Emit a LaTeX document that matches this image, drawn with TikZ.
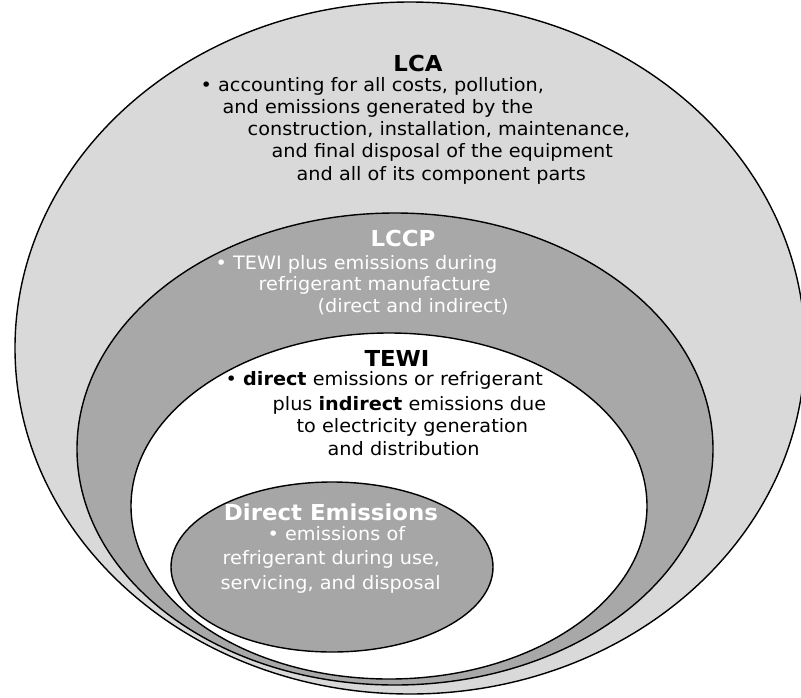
\documentclass[tikz,border=0pt]{standalone}
\usepackage{fontspec}
\setmainfont{DejaVu Sans}[FakeStretch=1.04]
\usepackage{tikz}
\usetikzlibrary{shapes.geometric,positioning}

\begin{document}
\begin{tikzpicture}[x=1pt,y=-1pt,line width=1.4pt]
\tikzstyle{ring}=[ellipse,draw=black,inner sep=0pt]
\tikzstyle{heading}=[inner sep=0pt,text depth=0pt,font=\fontsize{22}{26}\selectfont\bfseries]
\tikzstyle{bodytext}=[anchor=west,inner sep=0pt,text height=0.72em,text depth=0.2em,font=\fontsize{18.5}{22}\selectfont]

\useasboundingbox (0,0) rectangle (801,697);

\node[ring,fill=gray!30,minimum width=790pt,minimum height=692pt] (LCA)  at (410,348) {};
\node[ring,fill=gray!68,minimum width=636pt,minimum height=472pt] (LCCP) at (395,449) {};
\node[ring,fill=white,  minimum width=516pt,minimum height=346pt] (TEWI) at (389,506) {};
\node[ring,fill=gray!70,minimum width=322pt,minimum height=170pt] (DE)   at (332,567) {};

\node[heading]  (LCAhead) at (418,63)  {LCA};
\node[bodytext] (LCA1)    at (200,89)  {• accounting for all costs, pollution,};
\node[bodytext] (LCA2)    at (222,111) {and emissions generated by the};
\node[bodytext] (LCA3)    at (247,133) {construction, installation, maintenance,};
\node[bodytext] (LCA4)    at (271,155) {and final disposal of the equipment};
\node[bodytext] (LCA5)    at (296,178) {and all of its component parts};

\node[heading,text=white]  (LCCPhead) at (403,238) {LCCP};
\node[bodytext,text=white] (LCCP1)    at (215,267) {• TEWI plus emissions during};
\node[bodytext,text=white] (LCCP2)    at (258,288) {refrigerant manufacture};
\node[bodytext,text=white] (LCCP3)    at (317,310) {(direct and indirect)};

\node[heading]  (TEWIhead) at (397,358) {TEWI};
\node[bodytext] (TEWI1)    at (225,383) {• \textbf{direct} emissions or refrigerant};
\node[bodytext] (TEWI2)    at (272,408) {plus \textbf{indirect} emissions due};
\node[bodytext] (TEWI3)    at (296,430) {to electricity generation};
\node[bodytext] (TEWI4)    at (327,453) {and distribution};

\node[heading,text=white]  (DEhead) at (331,512) {Direct Emissions};
\node[bodytext,text=white] (DE1)    at (267,538) {• emissions of};
\node[bodytext,text=white] (DE2)    at (222,562) {refrigerant during use,};
\node[bodytext,text=white] (DE3)    at (220,587) {servicing, and disposal};
\end{tikzpicture}
\end{document}
